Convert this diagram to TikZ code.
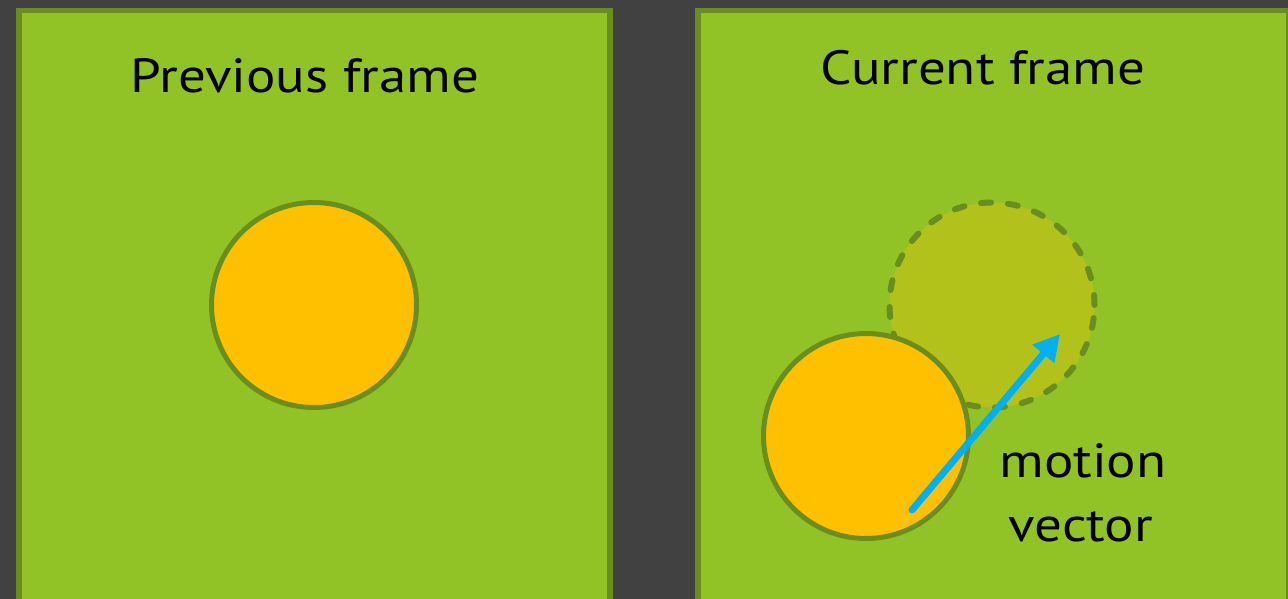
\documentclass[tikz,border=0pt]{standalone}
\usepackage{fontspec}
\setmainfont[FakeStretch=1.145]{PT Sans}
\usetikzlibrary{arrows.meta}
\definecolor{bgdark}{HTML}{414141}
\definecolor{panelgreen}{HTML}{91C326}
\definecolor{edgegreen}{HTML}{6A8E1E}
\definecolor{ballorange}{HTML}{FFC000}
\definecolor{ghostfill}{HTML}{B3C21B}
\definecolor{vecblue}{HTML}{00B0F0}
\tikzset{
  panel/.style={draw=edgegreen, fill=panelgreen, line width=5.5pt},
  ball/.style={circle, draw=edgegreen, fill=ballorange, line width=5pt, minimum size=205pt, inner sep=0pt},
  ghost/.style={circle, draw=edgegreen, fill=ghostfill, line width=6pt, dash pattern=on 10pt off 17pt, line cap=round, minimum size=205pt, inner sep=0pt},
  title/.style={font=\fontsize{48}{54}\selectfont, text=black, anchor=base},
  vec/.style={draw=vecblue, line width=7pt, line cap=round, -{Triangle[length=26pt,width=27pt]}}
}
\begin{document}
\begin{tikzpicture}[x=1pt,y=-1pt]
  % canvas
  \fill[bgdark] (0,0) rectangle (1288,599);
  \useasboundingbox (0,0) rectangle (1288,599);
  % two frames
  \draw[panel] (19,10.5) rectangle (610,620);
  \draw[panel] (698,10.5) rectangle (1289,620);
  \node[title] (prevtitle) at (305,93) {Previous frame};
  \node[title] (curtitle) at (983,85) {Current frame};
  % object in previous frame
  \node[ball] (prevball) at (314,305) {};
  % previous position and current position
  \node[ghost] (oldpos) at (992,305) {};
  \node[ball] (curball) at (866,436) {};
  % motion vector
  \coordinate (vstart) at (912,510);
  \coordinate (vend) at (1060,334);
  \draw[vec] (vstart) -- (vend);
  \node[title] (mvlabel1) at (1083,477) {motion};
  \node[title] (mvlabel2) at (1081,541) {vector};
\end{tikzpicture}
\end{document}
